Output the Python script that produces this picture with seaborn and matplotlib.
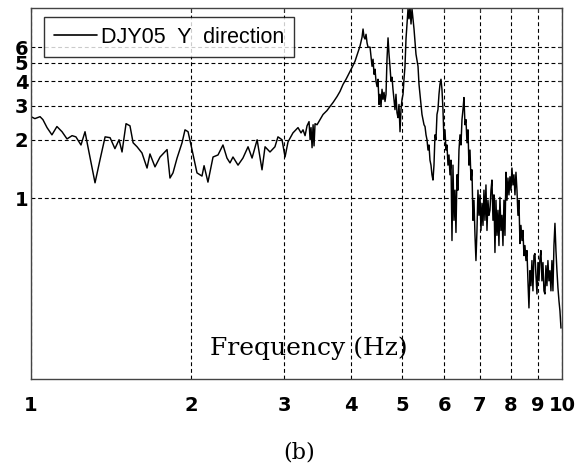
import numpy as np
import pandas as pd
import matplotlib
matplotlib.use("Agg")
import matplotlib.pyplot as plt
import seaborn as sns
from matplotlib.ticker import FixedLocator, NullLocator, FixedFormatter

# ---- data ----
freq_low = [1.000, 1.017, 1.040, 1.053, 1.072, 1.095, 1.119, 1.144, 1.169, 1.195,
            1.215, 1.242, 1.264, 1.280, 1.320, 1.349, 1.379, 1.409, 1.439, 1.465,
            1.484, 1.510, 1.536, 1.557, 1.584, 1.618, 1.654, 1.675, 1.712, 1.750,
            1.804, 1.827, 1.851, 1.884, 1.925, 1.950, 1.976, 2.010, 2.054, 2.099,
            2.118, 2.154, 2.202, 2.250, 2.299, 2.339, 2.370, 2.401, 2.454, 2.507,
            2.563, 2.608, 2.666, 2.723, 2.759, 2.819, 2.880, 2.918, 2.970, 3.009,
            3.048, 3.114]
amp_low = [2.63, 2.57, 2.63, 2.54, 2.31, 2.12, 2.34, 2.20, 2.02, 2.10,
           2.07, 1.88, 2.20, 1.84, 1.20, 1.58, 2.07, 2.05, 1.80, 2.00,
           1.73, 2.42, 2.36, 1.93, 1.84, 1.71, 1.43, 1.69, 1.45, 1.63,
           1.78, 1.27, 1.35, 1.61, 1.93, 2.25, 2.20, 1.78, 1.35, 1.30,
           1.47, 1.21, 1.63, 1.67, 1.88, 1.61, 1.52, 1.63, 1.48, 1.61,
           1.84, 1.61, 2.00, 1.40, 1.84, 1.73, 1.84, 2.07, 2.00, 1.63,
           1.95, 2.17]

freq_mid = [3.183, 3.225, 3.253, 3.282, 3.310, 3.339, 3.354, 3.368, 3.383, 3.398,
            3.412, 3.427, 3.457, 3.502, 3.548, 3.610, 3.657, 3.705, 3.770, 3.819,
            3.870, 3.920, 3.972, 4.024, 4.076, 4.130, 4.165, 4.202, 4.220, 4.238,
            4.257, 4.275, 4.294, 4.312, 4.350, 4.388, 4.407, 4.426, 4.445, 4.464,
            4.484, 4.503, 4.523, 4.543, 4.562, 4.582, 4.602, 4.622, 4.642, 4.662,
            4.682, 4.703, 4.723, 4.743, 4.764, 4.785, 4.805, 4.826, 4.847, 4.868,
            4.889, 4.911, 4.932, 4.954, 4.975, 4.997, 5.019, 5.040, 5.062, 5.084,
            5.106, 5.129, 5.151, 5.173, 5.196, 5.218, 5.241, 5.264, 5.286, 5.309,
            5.356, 5.379, 5.402, 5.426, 5.449, 5.473, 5.497, 5.521, 5.545, 5.569,
            5.593, 5.617, 5.641, 5.666, 5.690, 5.715, 5.740, 5.765, 5.790, 5.815,
            5.840, 5.866, 5.891, 5.917, 5.942, 5.968, 5.994]
amp_mid = [2.31, 2.17, 2.25, 2.10, 2.36, 2.48, 2.00, 2.31, 1.82, 2.39,
           1.86, 2.42, 2.39, 2.54, 2.70, 2.83, 2.97, 3.11, 3.34, 3.55,
           3.86, 4.10, 4.40, 4.72, 5.08, 5.66, 6.08, 6.76, 7.44, 6.76,
           6.61, 6.99, 6.31, 6.00, 6.00, 4.78, 5.20, 4.35, 4.62, 4.00,
           3.76, 4.10, 3.04, 3.43, 2.97, 3.64, 3.23, 3.51, 3.15, 3.43,
           5.20, 6.70, 5.52, 4.78, 4.00, 4.20, 3.64, 3.23, 2.86, 3.43,
           2.76, 2.60, 3.04, 2.20, 2.86, 3.23, 3.43, 4.10, 4.78, 6.61,
           7.90, 9.45, 8.40, 9.68, 7.90, 9.45, 8.40, 7.44, 6.45, 5.52,
           4.78, 3.86, 3.43, 3.04, 2.70, 2.54, 2.39, 2.34, 2.12, 2.00,
           1.77, 1.88, 1.57, 1.48, 1.32, 1.24, 1.48, 2.12, 2.00, 2.70,
           2.86, 3.43, 3.86, 4.10, 3.64, 2.86, 2.00]

freq_high = [6.020, 6.047, 6.073, 6.099, 6.126, 6.152, 6.179, 6.206, 6.233, 6.260,
             6.287, 6.314, 6.342, 6.369, 6.397, 6.425, 6.453, 6.481, 6.509, 6.537,
             6.566, 6.594, 6.623, 6.652, 6.680, 6.710, 6.739, 6.768, 6.797, 6.827,
             6.857, 6.886, 6.916, 6.946, 6.977, 7.007, 7.037, 7.068, 7.099, 7.129,
             7.160, 7.191, 7.223, 7.254, 7.285, 7.317, 7.349, 7.381, 7.413, 7.445,
             7.477, 7.510, 7.542, 7.575, 7.608, 7.641, 7.674, 7.708, 7.741, 7.775,
             7.809, 7.843, 7.877, 7.911, 7.945, 7.980, 8.014, 8.049, 8.084, 8.119,
             8.155, 8.190, 8.226, 8.261, 8.297, 8.333, 8.369, 8.406, 8.442, 8.479,
             8.516, 8.553, 8.590, 8.627, 8.665, 8.703, 8.740, 8.778, 8.816, 8.855,
             8.893, 8.932, 8.971, 9.010, 9.049, 9.088, 9.127, 9.167, 9.207, 9.247,
             9.287, 9.327, 9.368, 9.408, 9.449, 9.491, 9.532, 9.573, 9.615, 9.657,
             9.699, 9.741, 9.783, 9.826, 9.869, 9.912, 9.956]
amp_high = [2.25, 1.77, 1.88, 1.48, 1.67, 1.32, 1.57, 0.605, 1.48, 0.769,
            1.10, 0.666, 1.32, 1.10, 1.77, 2.12, 1.88, 2.54, 2.86, 3.30,
            2.39, 2.54, 1.93, 2.25, 1.48, 1.77, 1.24, 1.40, 0.769, 0.976,
            0.643, 0.477, 0.682, 1.10, 0.816, 1.04, 0.682, 0.94, 0.724, 1.10,
            0.769, 1.17, 0.682, 0.976, 0.816, 0.866, 1.10, 1.24, 0.769, 1.04,
            0.525, 0.976, 0.643, 0.866, 0.570, 1.01, 0.682, 0.816, 0.570, 0.976,
            0.643, 1.36, 0.976, 1.27, 1.04, 1.29, 1.10, 1.43, 1.17, 1.32,
            1.04, 1.36, 1.10, 0.816, 0.976, 0.584, 0.724, 0.605, 0.682, 0.506,
            0.570, 0.477, 0.537, 0.375, 0.272, 0.423, 0.354, 0.477, 0.333, 0.506,
            0.518, 0.399, 0.321, 0.466, 0.375, 0.488, 0.537, 0.375, 0.466, 0.333,
            0.321, 0.449, 0.354, 0.477, 0.375, 0.423, 0.333, 0.477, 0.333, 0.570,
            0.742, 0.537, 0.423, 0.345, 0.296, 0.262, 0.214]

x_ticks = [1, 2, 3, 4, 5, 6, 7, 8, 9, 10]
x_ticklabels = ["1", "2", "3", "4", "5", "6", "7", "8", "9", "10"]
y_ticks = [1, 2, 3, 4, 5, 6]
y_ticklabels = ["1", "2", "3", "4", "5", "6"]
series_label = "DJY05  Y  direction"

freq = freq_low + freq_mid + freq_high
amp = amp_low + amp_mid + amp_high
df = pd.DataFrame({"freq": freq, "amp": amp, "series": series_label})

sns.set_theme(style="white")
plt.rcParams["font.family"] = ["DejaVu Sans"]

fig = plt.figure(figsize=(5.84, 4.70), dpi=100)
ax = fig.add_axes([31/584, 1 - 379/470, 531/584, 371/470])
ax.set_xscale("log")
ax.set_yscale("log")

sns.lineplot(data=df, x="freq", y="amp", hue="series", palette=["black"],
             estimator=None, sort=False, linewidth=1.05, ax=ax)

ax.set_xlim(1, 10)
ax.set_ylim(0.117, 9.55)

ax.xaxis.set_major_locator(FixedLocator(x_ticks))
ax.xaxis.set_major_formatter(FixedFormatter(x_ticklabels))
ax.xaxis.set_minor_locator(NullLocator())
ax.yaxis.set_major_locator(FixedLocator(y_ticks))
ax.yaxis.set_major_formatter(FixedFormatter(y_ticklabels))
ax.yaxis.set_minor_locator(NullLocator())

ax.tick_params(axis="both", which="major", direction="in", length=3, width=0.8,
               color="#333333", top=True, right=True, labelsize=14)
ax.tick_params(axis="x", pad=12)
ax.tick_params(axis="y", pad=2)
for lab in ax.get_xticklabels() + ax.get_yticklabels():
    lab.set_fontweight("bold")
    lab.set_color("black")

ax.grid(True, which="major", color="black", linestyle=(0, (3.5, 2.5)), linewidth=0.8)
for s in ax.spines.values():
    s.set_color("#444444")
    s.set_linewidth(1.0)

ax.set_xlabel("")
ax.set_ylabel("")
ax.text(0.5235, 0.083, "Frequency (Hz)", transform=ax.transAxes, ha="center",
        va="center", fontsize=18, family=["DejaVu Serif"], color="black")
fig.text(299/584, 1 - 453/470, "(b)", ha="center", va="center", fontsize=16,
         family=["DejaVu Serif"], color="black")

leg = ax.legend(loc="upper left", bbox_to_anchor=(13/531, (379-17)/371),
                borderaxespad=0, frameon=True, fancybox=False,
                handlelength=2.0, handletextpad=0.2, borderpad=0.45,
                prop={"family": ["Liberation Sans"], "size": 15.5})
leg.get_frame().set_edgecolor("black")
leg.get_frame().set_linewidth(1.0)
for t in leg.get_texts():
    t.set_color("black")
for l in leg.get_lines():
    l.set_linewidth(1.2)

fig.savefig("out.png", dpi=100, facecolor="white")
